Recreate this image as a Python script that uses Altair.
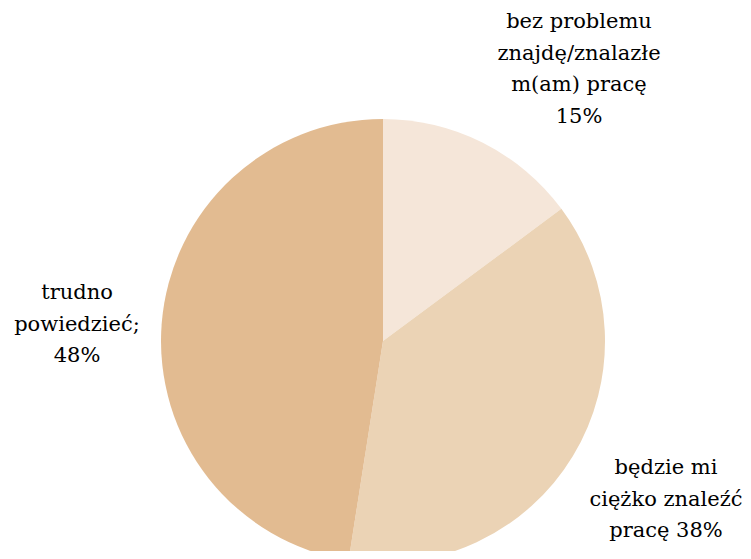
import altair as alt
import pandas as pd

categories = [
    "bez problemu znajdę/znalazłem(am) pracę",
    "będzie mi ciężko znaleźć pracę",
    "trudno powiedzieć",
]
values = [15, 38, 48]
labels = [
    "bez problemu\nznajdę/znalazłe\nm(am) pracę\n15%",
    "będzie mi\nciężko znaleźć\npracę 38%",
    "trudno\npowiedzieć;\n48%",
]
colors = ["#F5E6D9", "#EBD3B5", "#E2BB91"]

# label placement (layout, pixels in chart coordinates; y = first line)
label_x = [571, 658, 69]
label_y = [14, 460, 285]

df = pd.DataFrame({
    "category": categories,
    "value": values,
    "order": list(range(len(categories))),
    "label": labels,
    "lx": label_x,
    "ly": label_y,
})

pie = alt.Chart(df).mark_arc(outerRadius=222, stroke=None).encode(
    theta=alt.Theta("value:Q", stack=True),
    order=alt.Order("order:Q"),
    color=alt.Color("category:N", scale=alt.Scale(domain=categories, range=colors), legend=None),
    x=alt.value(375),
    y=alt.value(333),
)

text = alt.Chart(df).mark_text(
    font="DejaVu Serif", fontSize=21, lineHeight=31.5, lineBreak="\n",
    align="center", baseline="middle", color="#000000",
).encode(
    x=alt.X("lx:Q", scale=None),
    y=alt.Y("ly:Q", scale=None),
    text="label:N",
)

chart = alt.layer(pie, text).properties(
    width=735, height=543, autosize=alt.AutoSizeParams(type="none"), padding=0,
).configure_view(stroke=None)

chart.save("out.html", embed_options={"renderer": "svg", "actions": False})
